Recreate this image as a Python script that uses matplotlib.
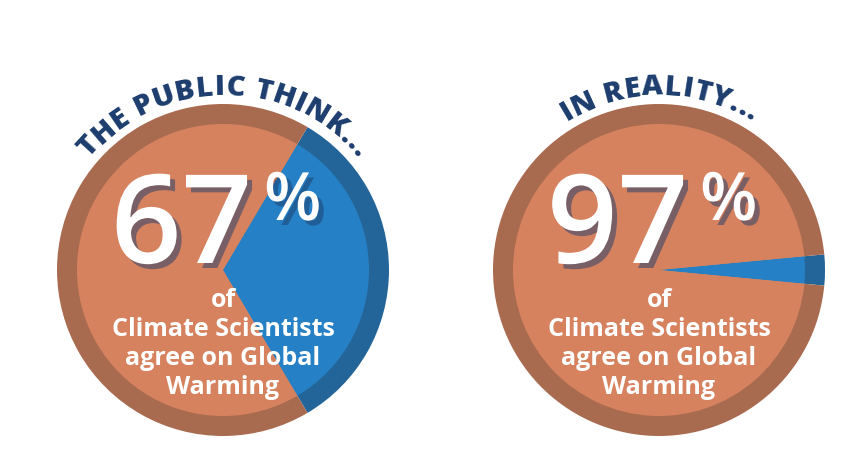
import matplotlib
matplotlib.use("Agg")
import matplotlib.pyplot as plt
import matplotlib.patheffects as pe
import numpy as np

# data
titles = ["THE PUBLIC THINK...", "IN REALITY..."]
agree_pct = [67, 97]
caption = "of\nClimate Scientists\nagree on Global\nWarming"

W, H = 850, 454
ORANGE = "#D6825F"
ORANGE_DK = "#A96B4F"
BLUE = "#2680C5"
BLUE_DK = "#246599"
NAVY = "#1C3D6D"
FONT = "Open Sans"

fig = plt.figure(figsize=(W / 100, H / 100), dpi=100)
ax = fig.add_axes([0, 0, 1, 1])
ax.set_xlim(0, W)
ax.set_ylim(0, H)
ax.set_aspect("equal")
ax.axis("off")


def arc_text(s, cx, cy, r, mid, size, track=0.0):
    """write s along an arc, centred at angle mid (deg), reading clockwise"""
    renderer = fig.canvas.get_renderer()
    widths = []
    for ch in s:
        if ch == " ":
            a = ax.text(0, 0, "II", fontsize=size, fontweight="heavy", family=FONT)
            b = ax.text(0, 0, "I I", fontsize=size, fontweight="heavy", family=FONT)
            w = b.get_window_extent(renderer).width - a.get_window_extent(renderer).width
            a.remove(); b.remove()
        else:
            t = ax.text(0, 0, ch, fontsize=size, fontweight="heavy", family=FONT)
            w = t.get_window_extent(renderer).width
            t.remove()
        widths.append(w + track)
    total = sum(widths)
    start = np.radians(mid) + total / 2 / r
    pos = 0
    for ch, w in zip(s, widths):
        ang = start - (pos + w / 2) / r
        ax.text(cx + r * np.cos(ang), cy + r * np.sin(ang), ch,
                fontsize=size, fontweight="heavy", family=FONT, color=NAVY,
                rotation=np.degrees(ang) - 90, rotation_mode="anchor",
                ha="center", va="baseline")
        pos += w


shadow = [pe.SimplePatchShadow(offset=(3.6, -3.6), shadow_rgbFace=NAVY, alpha=0.5),
          pe.Normal()]

centers = [(223, H - 270), (659, H - 270)]
mids = [90, 90]

for (cx, cy), pct, title, mid in zip(centers, agree_pct, titles, mids):
    other = 100 - pct
    start = -other / 100 * 180
    ax.pie([other, pct], colors=[BLUE_DK, ORANGE_DK], radius=166, center=(cx, cy),
           startangle=start, counterclock=True, frame=True,
           wedgeprops=dict(linewidth=0))
    ax.pie([other, pct], colors=[BLUE, ORANGE], radius=146, center=(cx, cy),
           startangle=start, counterclock=True, frame=True,
           wedgeprops=dict(linewidth=0))

    arc_text(title, cx, cy, 175, mid, 21, track=0.6)

    ax.text(cx - 112, cy + 7, str(pct), fontsize=89, fontweight="semibold",
            family=FONT, color="white", ha="left", va="baseline",
            path_effects=shadow)
    ax.text(cx + 41, cy + 50, "%", fontsize=48, fontweight="semibold",
            family=FONT, color="white", ha="left", va="baseline",
            path_effects=shadow)
    ax.text(cx, cy - 74, caption, fontsize=18, fontweight="bold", family=FONT,
            color="white", ha="center", va="center", linespacing=1.22)

ax.set_xlim(0, W)
ax.set_ylim(0, H)
ax.axis("off")
fig.savefig("out.png", dpi=100)
